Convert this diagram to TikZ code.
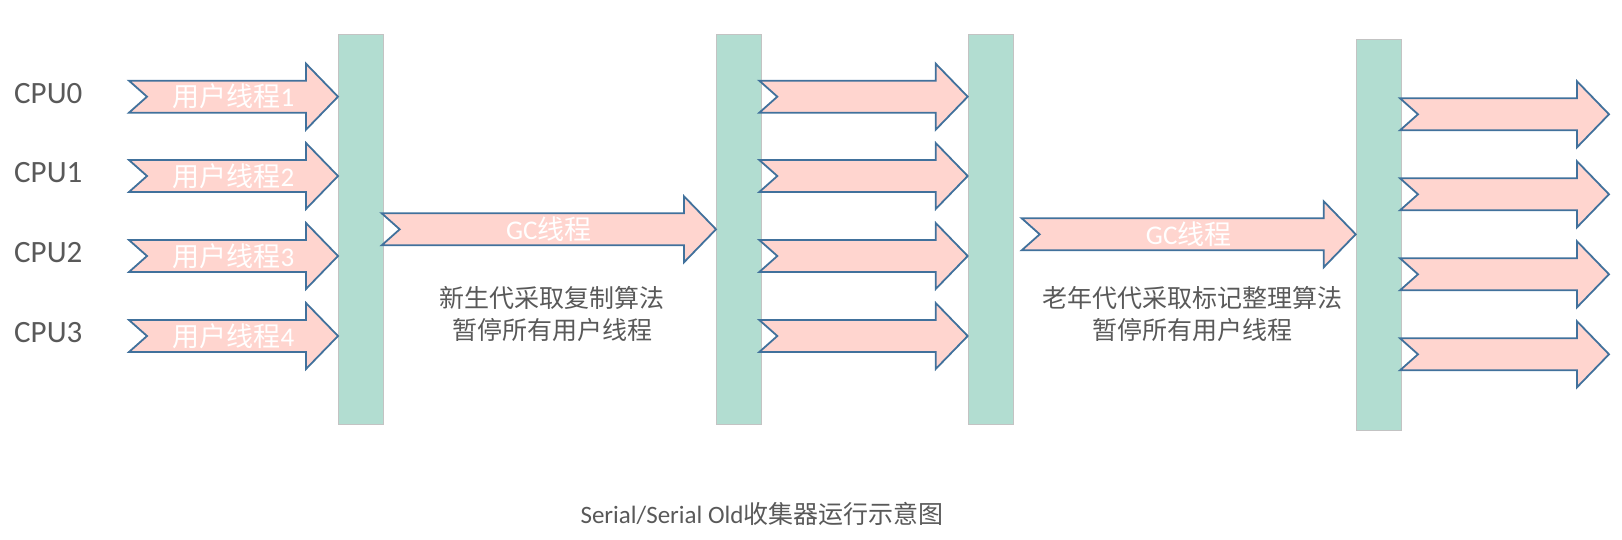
\documentclass[tikz,border=0pt]{standalone}
\usepackage{fontspec}
\setmainfont{Carlito}
\newfontfamily\cjk{Noto Sans CJK SC}
\usetikzlibrary{calc}

\definecolor{barfill}{HTML}{B2DDD1}
\definecolor{barline}{HTML}{C3C3C3}
\definecolor{thrfill}{HTML}{FFD5CF}
\definecolor{thrline}{HTML}{41719C}
\definecolor{txtgray}{HTML}{595959}

% fat thread arrow: name, tail x, tip x, middle y
\newcommand{\thread}[4]{%
  \draw[thr] (#2,#4-16) -- (#3-32,#4-16) -- (#3-32,#4-33) -- (#3,#4)
    -- (#3-32,#4+33) -- (#3-32,#4+16) -- (#2,#4+16) -- (#2+18,#4) -- cycle;
  \coordinate (#1) at ({(#2+#3)/2},#4);}

\begin{document}
\begin{tikzpicture}[
  x=1pt, y=-1pt,
  bar/.style={rectangle, draw=barline, line width=1pt, fill=barfill,
              minimum width=45pt, inner sep=0pt},
  thr/.style={draw=thrline, line width=1.8pt, fill=thrfill, line join=miter},
  thrlabel/.style={text=white, inner sep=0pt, font=\fontsize{27}{30}\selectfont},
  cpu/.style={anchor=west, inner sep=0pt, text=txtgray, font=\fontsize{31}{36}\selectfont},
  note/.style={align=center, inner sep=0pt, text=txtgray, font=\fontsize{25}{32}\selectfont\cjk}
]
\useasboundingbox (0,0) rectangle (1622,540);

% safepoint bars
\node[bar, minimum height=390pt] (bar1) at (360.5,229.2) {};
\node[bar, minimum height=390pt] (bar2) at (739,229.2)   {};
\node[bar, minimum height=390pt] (bar3) at (990.8,229.2) {};
\node[bar, minimum height=391pt] (bar4) at (1378.5,234.6) {};

% user threads
\foreach \i/\n/\y in {0/1/96.7, 1/2/176, 2/3/256, 3/4/336} {
  \node[cpu] (cpu\i) at (14,\y-3.5) {CPU\i};
  \thread{ua\i}{129}{338}{\y}
  \node[thrlabel] (ula\i) at (ua\i) {{\cjk 用户线程}\n};
  \thread{ub\i}{759.3}{967.7}{\y}
}
\foreach \i/\y in {0/114.3, 1/194.3, 2/274.3, 3/354.3} {
  \thread{uc\i}{1400}{1609}{\y}
}

% GC threads
\thread{gc1}{381.7}{716}{229.3}
\node[thrlabel] (gcl1) at (gc1) {GC{\cjk 线程}};
\thread{gc2}{1021.7}{1355.7}{234.3}
\node[thrlabel] (gcl2) at (gc2) {GC{\cjk 线程}};

\node[note] (young) at (552,314)  {新生代采取复制算法\\暂停所有用户线程};
\node[note] (old)   at (1192,314) {老年代代采取标记整理算法\\暂停所有用户线程};

\node[text=txtgray, inner sep=0pt, font=\fontsize{25}{30}\selectfont] (title) at (762,514)
  {Serial/Serial Old{\cjk 收集器运行示意图}};
\end{tikzpicture}
\end{document}
